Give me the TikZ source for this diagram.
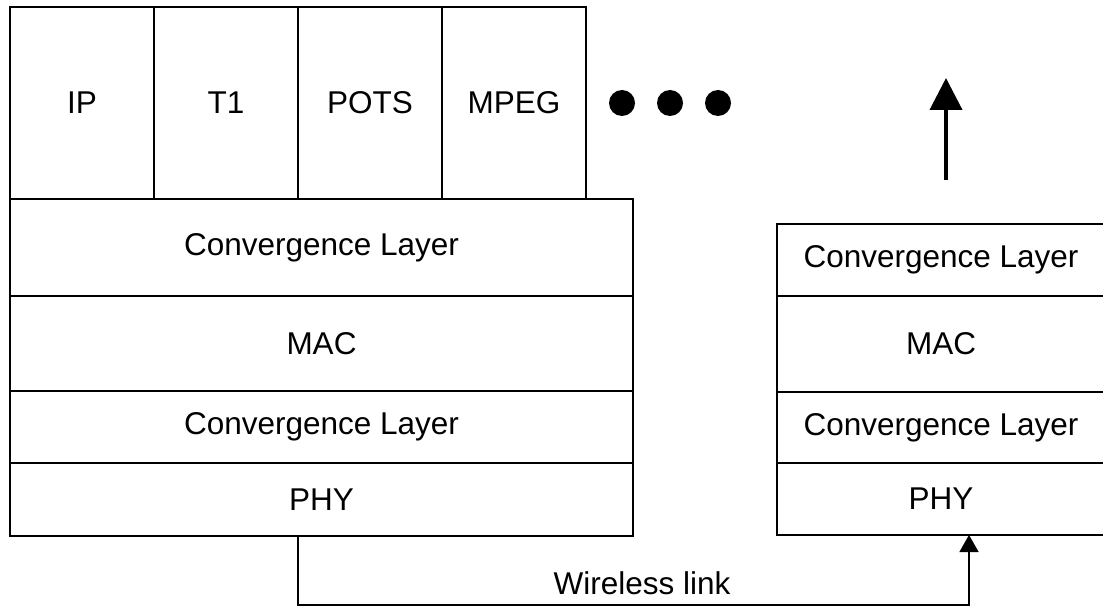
\documentclass[tikz,border=0pt]{standalone}
\usepackage{fontspec}
\setmainfont{Liberation Sans}
\usetikzlibrary{arrows.meta}
\usetikzlibrary{positioning}
\tikzstyle{layer} = [draw, line width=1.5pt, inner sep=0pt, outer sep=0pt,
font=\fontsize{31.5}{36}\selectfont]
\tikzstyle{line} = [draw, line width=1.5pt, -{Triangle[width=19pt,length=17pt]}]

\begin{document}
\begin{tikzpicture}[x=1pt, y=-1pt,
	app/.style={layer, minimum width=144pt, minimum height=192pt},
	wide/.style={layer, minimum width=623pt},
	narrow/.style={layer, minimum width=328pt},
	dot/.style={circle, fill=black, minimum size=26pt, inner sep=0pt}]
	\useasboundingbox (0,0) rectangle (1103,607);
	%% services
	\node [app, anchor=north west] (IP) at (10,7) {IP};
	\node [app, right=0pt of IP] (T1) {T1};
	\node [app, right=0pt of T1] (POTS) {POTS};
	\node [app, right=0pt of POTS] (MPEG) {MPEG};
	\node [dot] (d1) at (622,103) {};
	\node [dot] (d2) at (670,103) {};
	\node [dot] (d3) at (718,103) {};
	%% left stack
	\node [wide, minimum height=97pt, anchor=north west] (CL1) at (10,199) {Convergence Layer};
	\node [wide, minimum height=95pt, below=0pt of CL1] (MAC1) {MAC};
	\node [wide, minimum height=72pt, below=0pt of MAC1] (CL2) {Convergence Layer};
	\node [wide, minimum height=73pt, below=0pt of CL2] (PHY1) {PHY};
	%% right stack
	\node [narrow, minimum height=72pt, anchor=north west] (CL3) at (777,224) {Convergence Layer};
	\node [narrow, minimum height=96pt, below=0pt of CL3] (MAC2) {MAC};
	\node [narrow, minimum height=71pt, below=0pt of MAC2] (CL4) {Convergence Layer};
	\node [narrow, minimum height=72pt, below=0pt of CL4] (PHY2) {PHY};
	\coordinate (up1) at (946,180);
	\coordinate (up2) at (946,78);
	\coordinate (rx) at (969,605);
	%% Flows
	\path [line, line width=4pt, -{Triangle[width=32pt,length=32pt]}] (up1) to (up2);
	\path [line] (PHY1.south -| POTS.west) |- (rx) to (PHY2.south -| rx);
	\node [font=\fontsize{31.5}{36}\selectfont, anchor=base] (WL) at (642,594) {Wireless link};
\end{tikzpicture}
\end{document}
